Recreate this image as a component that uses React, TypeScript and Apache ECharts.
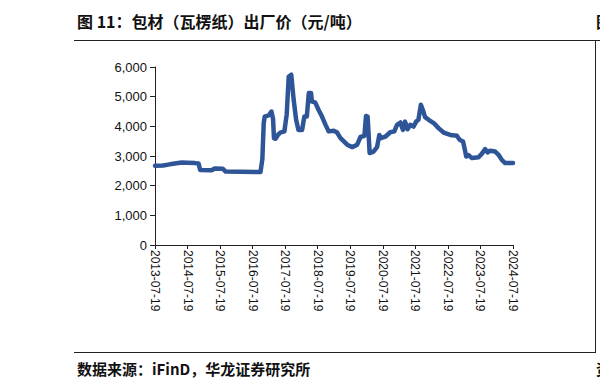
import React, { useEffect, useRef } from "react";
import * as echarts from "echarts";

const startDate = "2013-07-19";
const tickLabels = [
  "2013-07-19", "2014-07-19", "2015-07-19", "2016-07-19", "2017-07-19", "2018-07-19",
  "2019-07-19", "2020-07-19", "2021-07-19", "2022-07-19", "2023-07-19", "2024-07-19",
];

const dates = [
  "2013-07-19", "2013-10-19", "2013-12-15", "2014-01-19", "2014-05-15", "2014-07-19",
  "2014-10-10", "2014-11-19", "2014-12-08", "2015-04-15", "2015-05-20", "2015-08-20",
  "2015-09-20", "2016-10-15", "2016-11-05", "2016-11-20", "2016-12-01", "2017-01-20",
  "2017-02-15", "2017-03-05", "2017-03-15", "2017-04-01", "2017-04-28", "2017-05-25",
  "2017-07-10", "2017-08-05", "2017-08-28", "2017-09-25", "2017-10-22", "2017-11-19",
  "2017-12-15", "2018-01-25", "2018-02-19", "2018-03-19", "2018-04-10", "2018-05-05",
  "2018-05-15", "2018-06-22", "2018-07-28", "2018-09-05", "2018-10-15", "2018-11-19",
  "2019-01-15", "2019-02-22", "2019-04-01", "2019-06-15", "2019-08-10", "2019-10-05",
  "2019-11-10", "2019-12-25", "2020-01-12", "2020-01-30", "2020-02-22", "2020-04-05",
  "2020-05-15", "2020-06-10", "2020-06-28", "2020-08-15", "2020-10-10", "2020-11-25",
  "2020-12-25", "2021-02-01", "2021-03-01", "2021-03-25", "2021-04-22", "2021-05-22",
  "2021-06-28", "2021-07-28", "2021-08-22", "2021-09-19", "2021-10-10", "2021-11-05",
  "2021-12-15", "2022-02-10", "2022-04-05", "2022-06-01", "2022-08-15", "2022-10-28",
  "2022-11-28", "2023-01-05", "2023-01-19", "2023-02-10", "2023-03-08", "2023-04-15",
  "2023-06-28", "2023-08-05", "2023-09-10", "2023-10-08", "2023-11-05", "2024-01-01",
  "2024-02-08", "2024-03-15", "2024-04-22", "2024-06-01", "2024-07-19",
];

const prices = [
  2670, 2680, 2710, 2730, 2780, 2775,
  2760, 2750, 2530, 2520, 2580, 2570,
  2475, 2460, 2900, 4100, 4330, 4380,
  4500, 4250, 3600, 3580, 3710, 3790,
  3830, 4400, 5680, 5740, 4900, 4220,
  3880, 3880, 4330, 4330, 5120, 5120,
  4840, 4800, 4560, 4330, 4050, 3830,
  3850, 3790, 3600, 3380, 3300, 3380,
  3640, 3680, 4350, 4330, 3100, 3150,
  3300, 3710, 3600, 3650, 3800, 3830,
  4050, 4130, 3880, 4160, 3900, 4050,
  3990, 4160, 4220, 4730, 4560, 4310,
  4220, 4110, 3940, 3790, 3710, 3680,
  3545, 3490, 3300, 2980, 3030, 2930,
  2960, 3080, 3230, 3120, 3180, 3150,
  3040, 2870, 2760, 2760, 2760,
];

const yTicks = [0, 1000, 2000, 3000, 4000, 5000, 6000];

const YEAR_MS = 365.25 * 86400000;
const t0 = Date.parse(startDate);
const toYears = (d: string) => (Date.parse(d) - t0) / YEAR_MS;

export default function App() {
  const ref = useRef<HTMLDivElement>(null);
  useEffect(() => {
    if (!ref.current) return;
    const chart = echarts.init(ref.current, undefined, { renderer: "svg" });
    const seriesData = dates.map((d, i) => [toYears(d), prices[i]]);
    const lineColor = "#222";
    chart.setOption({
      animation: false,
      grid: { left: 155, right: 87, top: 67, bottom: 146, containLabel: false },
      xAxis: {
        type: "value",
        min: 0,
        max: tickLabels.length - 1,
        interval: 1,
        axisLine: { show: true, lineStyle: { color: lineColor, width: 1 } },
        axisTick: { show: true, length: 4, lineStyle: { color: lineColor } },
        splitLine: { show: false },
        axisLabel: {
          rotate: -90,
          margin: 5,
          fontFamily: "Liberation Sans, Arial, sans-serif",
          fontSize: 12,
          color: "#111",
          formatter: (v: number) => tickLabels[Math.round(v)] ?? "",
        },
      },
      yAxis: {
        type: "value",
        min: yTicks[0],
        max: yTicks[yTicks.length - 1],
        interval: 1000,
        axisLine: { show: true, lineStyle: { color: lineColor, width: 1 } },
        axisTick: { show: true, length: 5, lineStyle: { color: lineColor } },
        splitLine: { show: false },
        axisLabel: {
          margin: 8,
          fontFamily: "Liberation Sans, Arial, sans-serif",
          fontSize: 13,
          color: "#111",
          formatter: (v: number) => v.toLocaleString("en-US"),
        },
      },
      series: [
        {
          type: "line",
          data: seriesData,
          showSymbol: false,
          symbol: "none",
          lineStyle: { color: "#2e5597", width: 4.5, join: "round", cap: "round" },
        },
      ],
      graphic: [
        {
          type: "text",
          left: 77,
          top: 13,
          style: {
            text: "图 11：包材（瓦楞纸）出厂价（元/吨）",
            font: "bold 16px 'Noto Sans CJK SC', sans-serif",
            fill: "#111",
          },
        },
        {
          type: "text",
          x: 596,
          y: 13,
          style: {
            text: "图",
            font: "bold 16px 'Noto Sans CJK SC', sans-serif",
            fill: "#111",
          },
        },
        {
          type: "line",
          shape: { x1: 74, y1: 40.5, x2: 600, y2: 40.5 },
          style: { stroke: "#222", lineWidth: 1 },
        },
        {
          type: "line",
          shape: { x1: 595.5, y1: 40, x2: 595.5, y2: 353 },
          style: { stroke: "#222", lineWidth: 1 },
        },
        {
          type: "line",
          shape: { x1: 74, y1: 352.5, x2: 596, y2: 352.5 },
          style: { stroke: "#222", lineWidth: 1 },
        },
        {
          type: "text",
          left: 77,
          top: 361,
          style: {
            text: "数据来源：iFinD，华龙证券研究所",
            font: "bold 15px 'Noto Sans CJK SC', sans-serif",
            fill: "#111",
          },
        },
        {
          type: "text",
          x: 596,
          y: 361,
          style: {
            text: "资",
            font: "bold 15px 'Noto Sans CJK SC', sans-serif",
            fill: "#111",
          },
        },
      ],
    });
    return () => chart.dispose();
  }, []);
  return (
    <div
      ref={ref}
      style={{ position: "fixed", left: 0, top: 0, width: 600, height: 391, background: "#fff" }}
    />
  );
}
